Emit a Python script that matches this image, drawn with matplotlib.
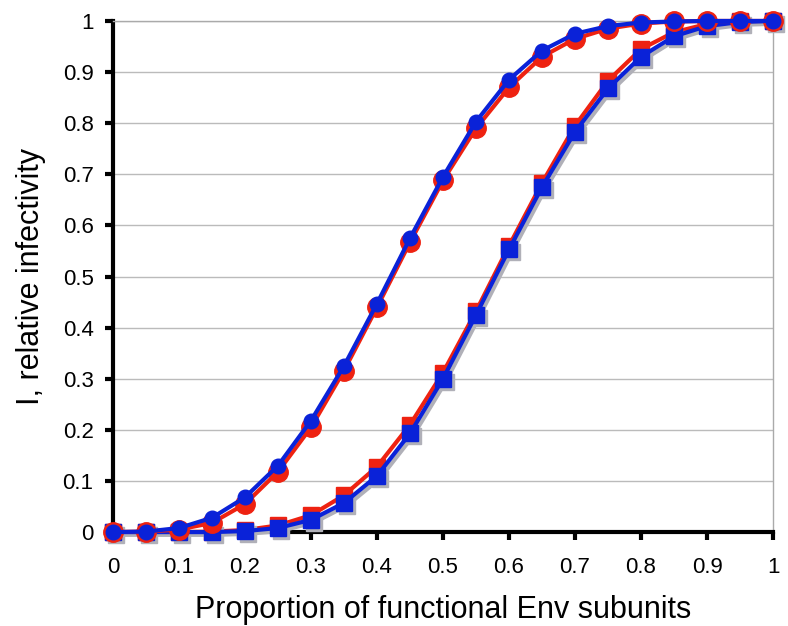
import matplotlib.pyplot as plt
import matplotlib.transforms as mtransforms
import numpy as np

# proportion of functional Env subunits
x = [0, 0.05, 0.1, 0.15, 0.2, 0.25, 0.3, 0.35, 0.4, 0.45, 0.5,
     0.55, 0.6, 0.65, 0.7, 0.75, 0.8, 0.85, 0.9, 0.95, 1]

red_circles = [0, 0.001, 0.005, 0.018, 0.055, 0.118, 0.205, 0.316, 0.44, 0.567, 0.688,
               0.79, 0.87, 0.93, 0.965, 0.985, 0.995, 0.999, 1, 1, 1]
blue_circles = [0, 0.001, 0.008, 0.028, 0.068, 0.13, 0.218, 0.325, 0.447, 0.575, 0.695,
                0.803, 0.885, 0.942, 0.975, 0.99, 0.997, 0.999, 1, 1, 1]
red_squares = [0, 0, 0, 0.001, 0.004, 0.013, 0.033, 0.072, 0.128, 0.21, 0.312,
               0.432, 0.56, 0.683, 0.795, 0.883, 0.945, 0.978, 0.994, 0.999, 1]
blue_squares = [0, 0, 0, 0, 0.002, 0.008, 0.024, 0.057, 0.11, 0.193, 0.3,
                0.425, 0.553, 0.675, 0.783, 0.868, 0.93, 0.97, 0.99, 0.998, 1]

ticks = np.round(np.arange(0, 1.01, 0.1), 1)
tick_labels = ['%g' % t for t in ticks]

plt.rcParams['font.family'] = ['Liberation Sans', 'DejaVu Sans']

RED = '#ee2211'
BLUE = '#0a22d8'

fig = plt.figure(figsize=(7.88, 6.26), dpi=100)
ax = fig.add_axes([0.1434, 0.150, 0.8376, 0.8165])

# soft drop shadow under the blue squares
shadow_tr = ax.transData + mtransforms.ScaledTranslation(2 / 72, -2 / 72, fig.dpi_scale_trans)
ax.plot(x, blue_squares, color='#b0b0b8', lw=3, marker='s', ms=11, mfc='#b0b0b8',
        mec='#b0b0b8', clip_on=False, zorder=3.5, transform=shadow_tr)

ax.plot(x, red_squares, color=RED, lw=3, marker='s', ms=12, mfc=RED, mec=RED,
        clip_on=False, zorder=3)
ax.plot(x, blue_squares, color=BLUE, lw=3, marker='s', ms=11, mfc=BLUE, mec=BLUE,
        clip_on=False, zorder=4)
ax.plot(x, red_circles, color=RED, lw=3, marker='o', ms=14, mfc=RED, mec=RED,
        clip_on=False, zorder=5)
ax.plot(x, blue_circles, color=BLUE, lw=3, marker='o', ms=10.5, mfc=BLUE, mec=BLUE,
        clip_on=False, zorder=6)

ax.set_xlim(0, 1)
ax.set_ylim(0, 1)
ax.set_xticks(ticks)
ax.set_yticks(ticks)
ax.set_xticklabels(tick_labels, fontsize=16)
ax.set_yticklabels(tick_labels, fontsize=16)
ax.tick_params(axis='both', direction='out', length=6, width=3, color='black', pad=8)
ax.tick_params(axis='x', pad=12)

ax.yaxis.grid(True, color='#bbbbbb', lw=1)
ax.set_axisbelow(True)

for side in ['left', 'bottom']:
    ax.spines[side].set_linewidth(3)
    ax.spines[side].set_color('black')
for side in ['top', 'right']:
    ax.spines[side].set_linewidth(1)
    ax.spines[side].set_color('#aaaaaa')

ax.set_xlabel('Proportion of functional Env subunits', fontsize=22, labelpad=12)
ax.set_ylabel('I, relative infectivity', fontsize=22, labelpad=12)

fig.savefig('out.png', dpi=100)
